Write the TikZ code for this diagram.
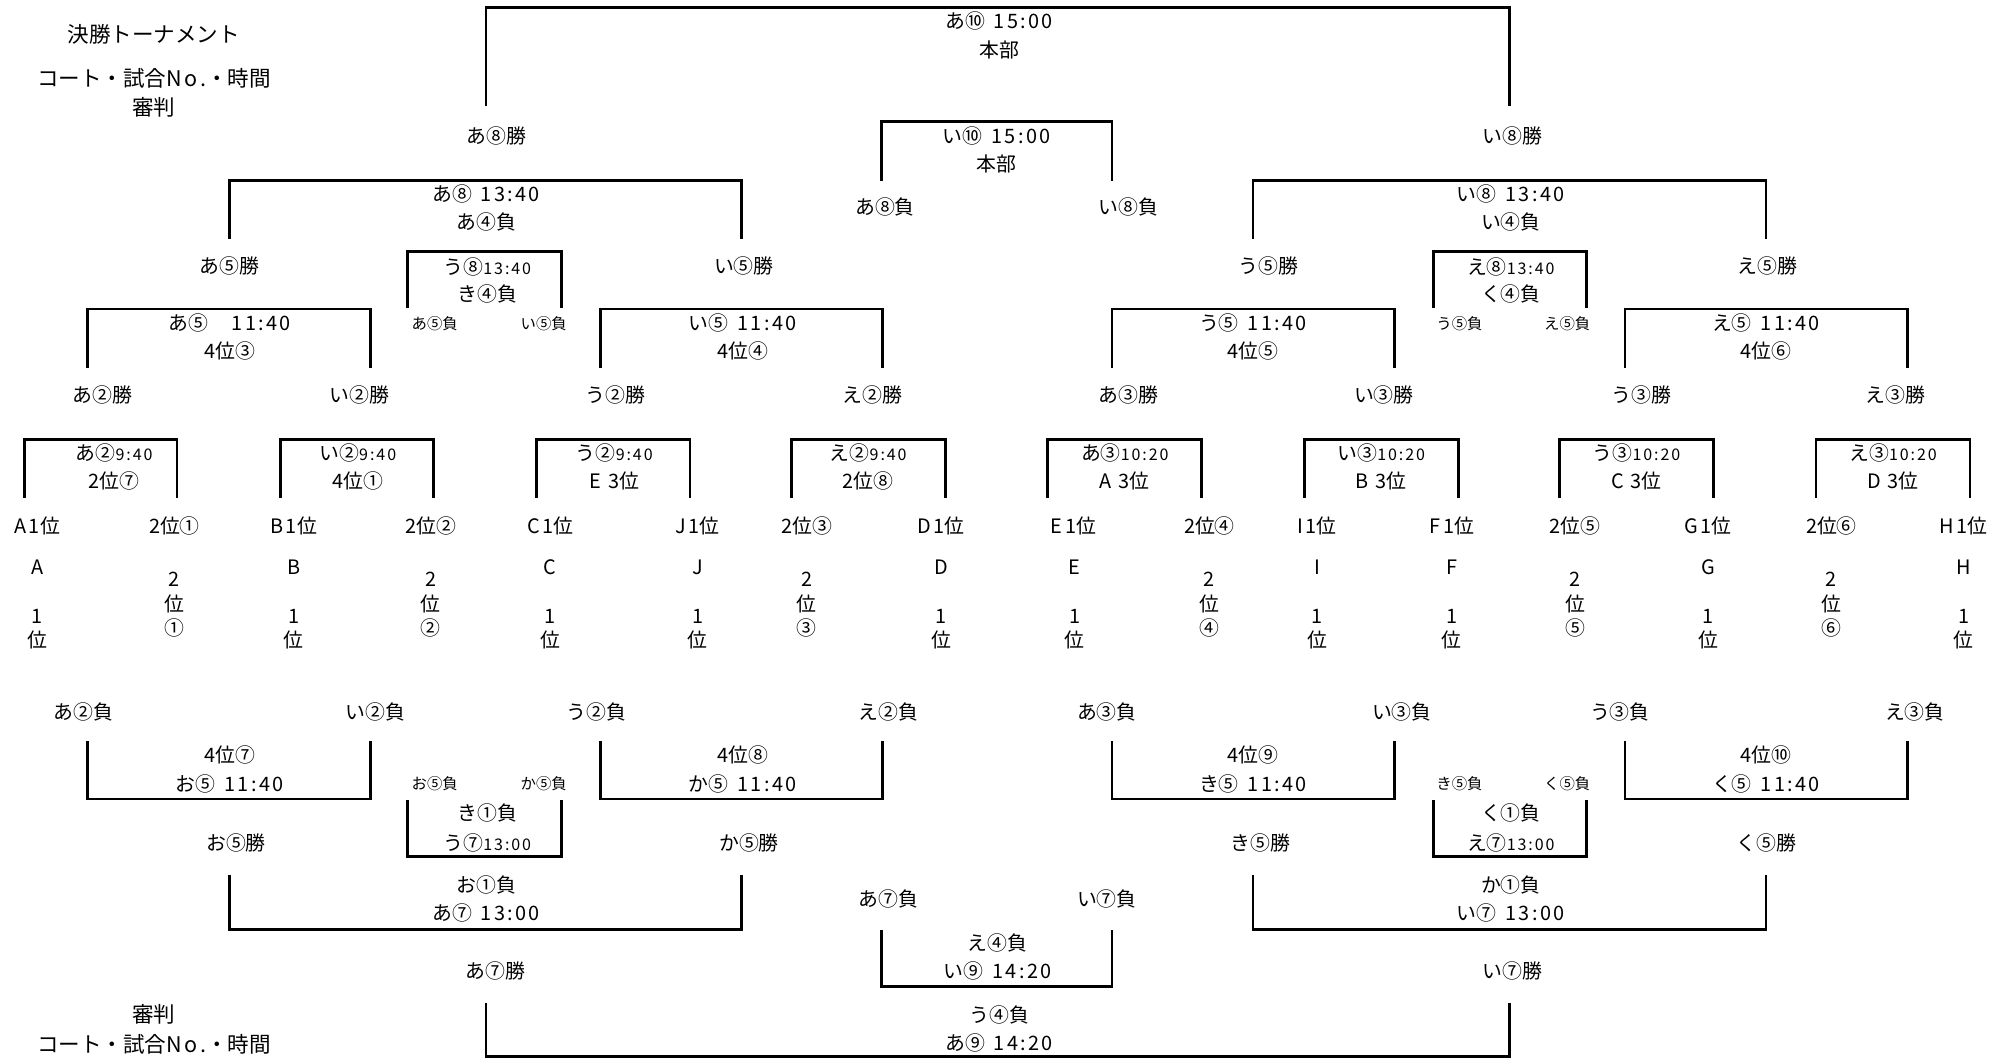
\documentclass[tikz,border=0pt]{standalone}
\usepackage{fontspec}
\setmainfont{Noto Sans CJK JP}
\newfontfamily\latf[LetterSpace=12]{Noto Sans CJK JP}
\newcommand\T[4]{\node[lbl] (#1) at (#2,#3) {#4};}
\newcommand\Ts[4]{\node[sml] (#1) at (#2,#3) {#4};}
\newcommand\lt[1]{{\latf #1}}
\newcommand\tl[1]{\hspace{0.45em}{\latf #1}}
\newcommand\tm[1]{{\latf\fontsize{12.5}{14}\selectfont #1}}
\newcommand\brdown[4]{\draw[br] (#1,#4) -- (#1,#3) -- (#2,#3) -- (#2,#4);}
\newcommand\brup[4]{\draw[br] (#1,#3) -- (#1,#4) -- (#2,#4) -- (#2,#3);}
\begin{document}
\begin{tikzpicture}[x=1pt,y=-1pt,
  lbl/.style={inner sep=0pt, font=\fontsize{15.5}{18}\selectfont},
  hdr/.style={inner sep=0pt, font=\fontsize{16.8}{19}\selectfont},
  sml/.style={inner sep=0pt, font=\fontsize{12}{14}\selectfont},
  br/.style={line width=2.2pt, line join=miter}]
\useasboundingbox (0,0) rectangle (1568,826);
% header
\node[hdr] (h1) at (120,27) {決勝トーナメント};
\node[hdr] (h2) at (120,61) {コート・試合\lt{No.}・時間};
\node[hdr] (h3) at (120,84) {審判};
\node[hdr] (f1) at (120,791) {審判};
\node[hdr] (f2) at (120,814) {コート・試合\lt{No.}・時間};
% final
\brdown{379}{1177}{6}{83}
\T{a10a}{779}{16}{あ⑩\tl{15:00}}
\T{a10b}{779}{39}{本部}
\T{w8a}{387}{106}{あ⑧勝}
\T{w8b}{1179}{106}{い⑧勝}
% 3rd place
\brdown{687}{867}{95}{141}
\T{i10a}{777}{106}{い⑩\tl{15:00}}
\T{i10b}{777}{128}{本部}
\T{l8a}{690}{161}{あ⑧負}
\T{l8b}{880}{161}{い⑧負}
% semis
\brdown{179}{578}{141}{186}
\T{a8a}{379}{151}{あ⑧\tl{13:40}}
\T{a8b}{379}{173}{あ④負}
\T{w5a}{179}{207}{あ⑤勝}
\T{w5b}{580}{207}{い⑤勝}
\brdown{977}{1377}{141}{186}
\T{i8a}{1178}{151}{い⑧\tl{13:40}}
\T{i8b}{1178}{173}{い④負}
\T{w5c}{989}{207}{う⑤勝}
\T{w5d}{1378}{207}{え⑤勝}
% small boxes top
\brdown{318}{438}{196}{240}
\T{u8a}{380}{208}{う⑧\tm{13:40}}
\T{u8b}{380}{229}{き④負}
\Ts{l5a}{339}{252}{あ⑤負}
\Ts{l5b}{424}{252}{い⑤負}
\brdown{1118}{1237}{196}{240}
\T{e8a}{1178}{208}{え⑧\tm{13:40}}
\T{e8b}{1178}{229}{く④負}
\Ts{l5c}{1138}{252}{う⑤負}
\Ts{l5d}{1222}{252}{え⑤負}
% quarterfinals
\brdown{68}{289}{241}{287}
\T{a5a}{179}{252}{あ⑤\hspace{1.2em}\lt{11:40}}
\T{a5b}{179}{274}{\lt{4}位③}
\T{w2a}{80}{308}{あ②勝}
\T{w2b}{280}{308}{い②勝}
\brdown{468}{688}{241}{287}
\T{i5a}{579}{252}{い⑤\tl{11:40}}
\T{i5b}{579}{274}{\lt{4}位④}
\T{w2c}{480}{308}{う②勝}
\T{w2d}{680}{308}{え②勝}
\brdown{867}{1087}{241}{287}
\T{u5a}{977}{252}{う⑤\tl{11:40}}
\T{u5b}{977}{274}{\lt{4}位⑤}
\T{w3a}{880}{308}{あ③勝}
\T{w3b}{1079}{308}{い③勝}
\brdown{1267}{1487}{241}{287}
\T{e5a}{1377}{252}{え⑤\tl{11:40}}
\T{e5b}{1377}{274}{\lt{4}位⑥}
\T{w3c}{1280}{308}{う③勝}
\T{w3d}{1478}{308}{え③勝}
% first round
\brdown{19}{138}{343}{388}
\T{a2a}{89}{353}{あ②\tm{9:40}}
\T{a2b}{89}{375}{\lt{2}位⑦}
\brdown{219}{338}{343}{388}
\T{i2a}{279}{353}{い②\tm{9:40}}
\T{i2b}{279}{375}{\lt{4}位①}
\brdown{418}{538}{343}{388}
\T{u2a}{479}{353}{う②\tm{9:40}}
\T{u2b}{479}{375}{\lt{E 3}位}
\brdown{617}{737}{343}{388}
\T{e2a}{677}{353}{え②\tm{9:40}}
\T{e2b}{677}{375}{\lt{2}位⑧}
\brdown{817}{937}{343}{388}
\T{a3a}{877}{353}{あ③\tm{10:20}}
\T{a3b}{877}{375}{\lt{A 3}位}
\brdown{1017}{1137}{343}{388}
\T{i3a}{1077}{353}{い③\tm{10:20}}
\T{i3b}{1077}{375}{\lt{B 3}位}
\brdown{1216}{1336}{343}{388}
\T{u3a}{1276}{353}{う③\tm{10:20}}
\T{u3b}{1276}{375}{\lt{C 3}位}
\brdown{1416}{1536}{343}{388}
\T{e3a}{1476}{353}{え③\tm{10:20}}
\T{e3b}{1476}{375}{\lt{D 3}位}
% seeds
\T{s1}{29}{410}{\lt{A1}位}
\T{s2}{136}{410}{\lt{2}位①}
\T{s3}{229}{410}{\lt{B1}位}
\T{s4}{336}{410}{\lt{2}位②}
\T{s5}{429}{410}{\lt{C1}位}
\T{s6}{544}{410}{\lt{J1}位}
\T{s7}{629}{410}{\lt{2}位③}
\T{s8}{734}{410}{\lt{D1}位}
\T{s9}{837}{410}{\lt{E1}位}
\T{s10}{943}{410}{\lt{2}位④}
\T{s11}{1027}{410}{\lt{I1}位}
\T{s12}{1132}{410}{\lt{F1}位}
\T{s13}{1228}{410}{\lt{2}位⑤}
\T{s14}{1332}{410}{\lt{G1}位}
\T{s15}{1428}{410}{\lt{2}位⑥}
\T{s16}{1531}{410}{\lt{H1}位}
% vertical texts (1st places)
\foreach \n/\x/\L in {va/29/A,vb/229/B,vc/429/C,vj/544/J,vd/734/D,ve/838/E,vi/1027/I,vf/1132/F,vg/1332/G,vh/1531/H}{
  \node[lbl] (\n1) at (\x,442) {\L};
  \node[lbl] (\n2) at (\x,481) {1};
  \node[lbl] (\n3) at (\x,499) {位};
}
% vertical texts (2nd places)
\foreach \n/\x/\c in {v21/136/①,v22/336/②,v23/629/③,v24/943/④,v25/1228/⑤,v26/1428/⑥}{
  \node[lbl] (\n a) at (\x,452) {2};
  \node[lbl] (\n b) at (\x,471) {位};
  \node[lbl] (\n c) at (\x,490) {\c};
}
% consolation first
\T{l2a}{65}{555}{あ②負}
\T{l2b}{293}{555}{い②負}
\brup{68}{289}{578}{623}
\T{o5a}{179}{589}{\lt{4}位⑦}
\T{o5b}{179}{611}{お⑤\tl{11:40}}
\T{l2c}{465}{555}{う②負}
\T{l2d}{693}{555}{え②負}
\brup{468}{688}{578}{623}
\T{k5a}{579}{589}{\lt{4}位⑧}
\T{k5b}{579}{611}{か⑤\tl{11:40}}
\T{l3a}{863}{555}{あ③負}
\T{l3b}{1093}{555}{い③負}
\brup{867}{1087}{578}{623}
\T{ki5a}{977}{589}{\lt{4}位⑨}
\T{ki5b}{977}{611}{き⑤\tl{11:40}}
\T{l3c}{1263}{555}{う③負}
\T{l3d}{1493}{555}{え③負}
\brup{1267}{1487}{578}{623}
\T{ku5a}{1377}{589}{\lt{4}位⑩}
\T{ku5b}{1377}{611}{く⑤\tl{11:40}}
% small boxes bottom
\Ts{lo5}{339}{611}{お⑤負}
\Ts{lk5}{424}{611}{か⑤負}
\brup{318}{438}{624}{668}
\T{u7a}{380}{634}{き①負}
\T{u7b}{380}{657}{う⑦\tm{13:00}}
\Ts{lki5}{1138}{611}{き⑤負}
\Ts{lku5}{1222}{611}{く⑤負}
\brup{1118}{1237}{624}{668}
\T{e7a}{1178}{634}{く①負}
\T{e7b}{1178}{657}{え⑦\tm{13:00}}
% consolation second
\T{wo5}{184}{657}{お⑤勝}
\T{wk5}{584}{657}{か⑤勝}
\T{wki5}{983}{657}{き⑤勝}
\T{wku5}{1377}{657}{く⑤勝}
\brup{179}{578}{682}{725}
\T{a7a}{379}{690}{お①負}
\T{a7b}{379}{712}{あ⑦\tl{13:00}}
\brup{977}{1377}{682}{725}
\T{i7a}{1178}{690}{か①負}
\T{i7b}{1178}{712}{い⑦\tl{13:00}}
% i9
\T{l7a}{693}{701}{あ⑦負}
\T{l7b}{863}{701}{い⑦負}
\brup{687}{867}{725}{769}
\T{i9a}{778}{735}{え④負}
\T{i9b}{778}{757}{い⑨\tl{14:20}}
% a9
\T{w7a}{386}{757}{あ⑦勝}
\T{w7b}{1179}{757}{い⑦勝}
\brup{379}{1177}{782}{824}
\T{a9a}{779}{791}{う④負}
\T{a9b}{779}{813}{あ⑨\tl{14:20}}
\end{tikzpicture}
\end{document}
